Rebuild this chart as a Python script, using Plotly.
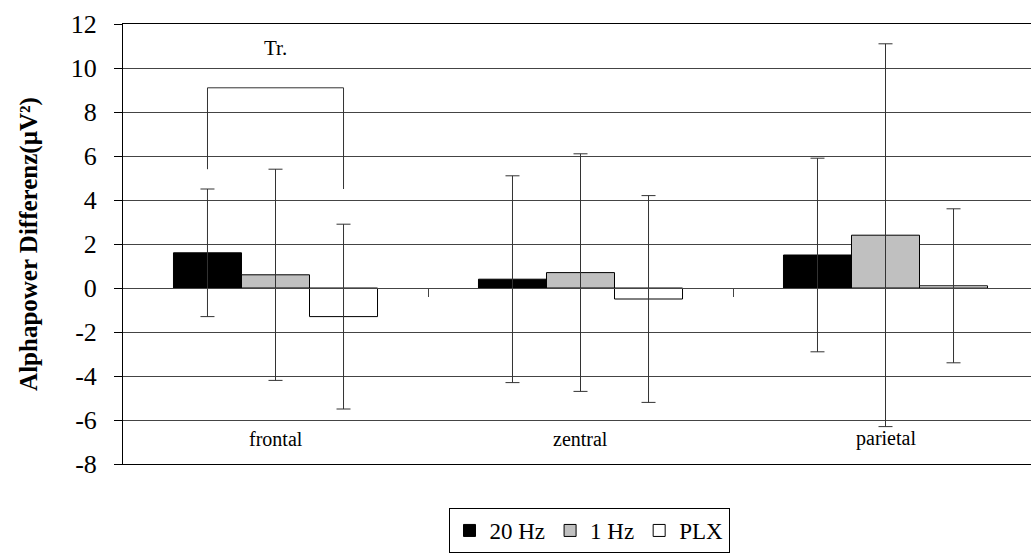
import plotly.graph_objects as go

categories = ["frontal", "zentral", "parietal"]
series_names = ["20 Hz", "1 Hz", "PLX"]
means_20hz = [1.6, 0.4, 1.5]
means_1hz = [0.6, 0.7, 2.4]
means_plx = [-1.3, -0.5, 0.1]
err_20hz = [2.9, 4.7, 4.4]
err_1hz = [4.8, 5.4, 8.7]
err_plx = [4.2, 4.7, 3.5]
colors = ["#000000", "#c0c0c0", "#ffffff"]
y_ticks = [-8, -6, -4, -2, 0, 2, 4, 6, 8, 10, 12]
bracket_heights = [5.4, 9.1, 9.1, 4.5]
bracket_label = "Tr."

FONT = "Liberation Serif"
W, H = 1031, 554
L, T, B = 123, 24, 90
BARGAP = 0.331

xs = list(range(len(categories)))
fig = go.Figure()
for name, vals, errs, col in zip(series_names, [means_20hz, means_1hz, means_plx],
                                 [err_20hz, err_1hz, err_plx], colors):
    fig.add_trace(go.Bar(
        x=xs, y=vals, name=name,
        marker=dict(color=col, line=dict(color="#000000", width=1)),
        error_y=dict(type="data", array=errs, visible=True, color="#333333",
                     thickness=1, width=7),
    ))

# significance bracket between 20 Hz and PLX bars in the first category
group_w = 1 - BARGAP
off = group_w / 3
bx = [xs[0] - off, xs[0] - off, xs[0] + off, xs[0] + off]
fig.add_trace(go.Scatter(x=bx, y=bracket_heights, mode="lines",
                         line=dict(color="#333333", width=1),
                         showlegend=False, hoverinfo="skip"))
fig.add_annotation(x=xs[0], y=10.9, text=bracket_label, showarrow=False,
                   xref="x", yref="y", font=dict(family=FONT, size=21, color="#000"))

for xi, cat in zip(xs, categories):
    fig.add_annotation(x=xi, y=-6.85, text=cat, showarrow=False, xref="x", yref="y",
                       font=dict(family=FONT, size=20, color="#000"))

plot_w = W - L
plot_h = H - T - B
x_right = -0.5 + plot_w / 305.0

fig.update_layout(
    width=W, height=H,
    margin=dict(l=L, r=0, t=T, b=B, pad=0),
    paper_bgcolor="white", plot_bgcolor="white",
    barmode="group", bargap=BARGAP, bargroupgap=0,
    font=dict(family=FONT, color="#000"),
    xaxis=dict(range=[-0.5, x_right], showgrid=False, zeroline=False,
               showticklabels=False, ticks="", showline=True, mirror=True,
               linecolor="#000", linewidth=1),
    xaxis2=dict(range=[-0.5, x_right], overlaying="x", anchor="free",
                position=8 / 20, side="bottom", showgrid=False, zeroline=False,
                showline=True, linecolor="#444", linewidth=1,
                tickvals=[0.5, 1.5], ticks="outside", ticklen=8, tickcolor="#444",
                showticklabels=False),
    yaxis=dict(range=[-8, 12], tickvals=y_ticks, ticktext=[str(v) for v in y_ticks],
               ticks="outside", ticklen=8,
               tickcolor="#000", showline=True, linecolor="#000", linewidth=1,
               showgrid=True, gridcolor="#444444", gridwidth=1, zeroline=False,
               tickfont=dict(family=FONT, size=26, color="#000"),
               ticklabelstandoff=12,
               title=dict(text="<b>Alphapower Differenz(µV²)</b>",
                          font=dict(family=FONT, size=25, color="#000"), standoff=26)),
    legend=dict(orientation="h", x=(589 - L) / plot_w, xanchor="center",
                y=(T + plot_h - 553) / plot_h, yanchor="bottom",
                bordercolor="#000", borderwidth=1, bgcolor="white",
                font=dict(family=FONT, size=23, color="#000"),
                itemwidth=30, tracegroupgap=0, traceorder="normal"),
    showlegend=True,
)
# dummy trace to activate xaxis2 (tick marks along the zero line)
fig.add_trace(go.Scatter(x=[None], y=[None], xaxis="x2", showlegend=False, hoverinfo="skip"))

fig.write_html("out.html")
